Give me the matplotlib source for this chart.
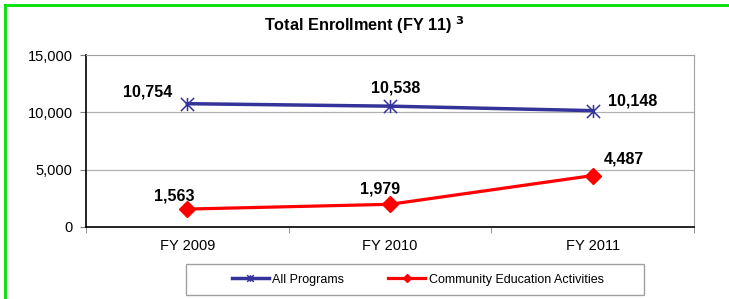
import numpy as np
import matplotlib
matplotlib.use('Agg')
import matplotlib.pyplot as plt
from matplotlib.lines import Line2D
from matplotlib.patches import Rectangle
from matplotlib.path import Path

plt.rcParams['font.family'] = ['Liberation Sans', 'DejaVu Sans']

# Data
years = ['FY 2009', 'FY 2010', 'FY 2011']
all_programs = [10754, 10538, 10148]
community_ed = [1563, 1979, 4487]
series_names = ['All Programs', 'Community Education Activities']

# Excel-style star marker: an x with a vertical bar through it
star = Path([(-1, -1), (1, 1), (-1, 1), (1, -1), (0, -1), (0, 1)],
            [Path.MOVETO, Path.LINETO] * 3)

fig = plt.figure(figsize=(7.29, 2.99), dpi=100)
ax = fig.add_axes([86 / 729, 72 / 299, 608 / 729, 172 / 299])

x = np.arange(len(years))
ax.plot(x, all_programs, color='#333399', lw=2.5, marker=star, ms=9.5, mew=1.1,
        mfc='none', label=series_names[0], zorder=3)
ax.plot(x, community_ed, color='#ff0000', lw=2.3, marker='D', ms=8,
        label=series_names[1], zorder=3)

# data labels, offsets in pixels from the point
offs_all = [(-40, 12), (6, 18), (40, 10)]
offs_ce = [(-13, 13), (-10, 15), (31, 17)]
for i, v in enumerate(all_programs):
    ax.annotate(f'{v:,}', (x[i], v), xytext=offs_all[i], textcoords='offset pixels',
                ha='center', va='center', fontsize=11.5, fontweight='bold')
for i, v in enumerate(community_ed):
    ax.annotate(f'{v:,}', (x[i], v), xytext=offs_ce[i], textcoords='offset pixels',
                ha='center', va='center', fontsize=11.5, fontweight='bold')

ax.set_xlim(-0.5, 2.5)
ax.set_ylim(0, 15000)
ax.set_yticks([0, 5000, 10000, 15000])
ax.set_yticklabels([f'{v:,}' for v in [0, 5000, 10000, 15000]], fontsize=10.5)
ax.set_xticks(x)
ax.set_xticklabels(years, fontsize=10.5)
ax.tick_params(axis='x', length=0, pad=9)
ax.set_xticks([-0.5, 0.5, 1.5, 2.5], minor=True)
ax.tick_params(axis='x', which='minor', length=4, color='#808080', direction='out')
ax.tick_params(axis='y', length=4, color='#808080', direction='out', pad=5.5)

for yv in [5000, 10000]:
    ax.axhline(yv, color='#b0b0b0', lw=0.9, zorder=1)
for s in ['top', 'right']:
    ax.spines[s].set_color('#a0a0a0')
for s in ['left', 'bottom']:
    ax.spines[s].set_color('black')
    ax.spines[s].set_linewidth(1.2)

fig.text(0.5, 1 - 25.5 / 299, 'Total Enrollment (FY 11) $^{\\mathbf{3}}$', ha='center',
         va='center', fontsize=11.7, fontweight='bold')

leg = fig.legend(loc='center', bbox_to_anchor=(417.5 / 729, 1 - 279.5 / 299), ncol=2,
                 fontsize=9, frameon=False, handlelength=3.0, handletextpad=0.25,
                 columnspacing=3.5, markerscale=0.5)
# legend box, wider than the entries as in Excel
fig.add_artist(Rectangle((186 / 729, 1 - 295 / 299), 458 / 729, 31 / 299, fill=False,
                         edgecolor='#a0a0a0', lw=1, transform=fig.transFigure))

# green frame around the chart
fig.add_artist(Line2D([5 / 729, 1], [1 - 5 / 299, 1 - 5 / 299], color='#00e000', lw=2,
                      transform=fig.transFigure))
fig.add_artist(Line2D([5 / 729, 5 / 729], [0, 1 - 5 / 299], color='#00e000', lw=2,
                      transform=fig.transFigure))

fig.savefig('out.png', dpi=100)
